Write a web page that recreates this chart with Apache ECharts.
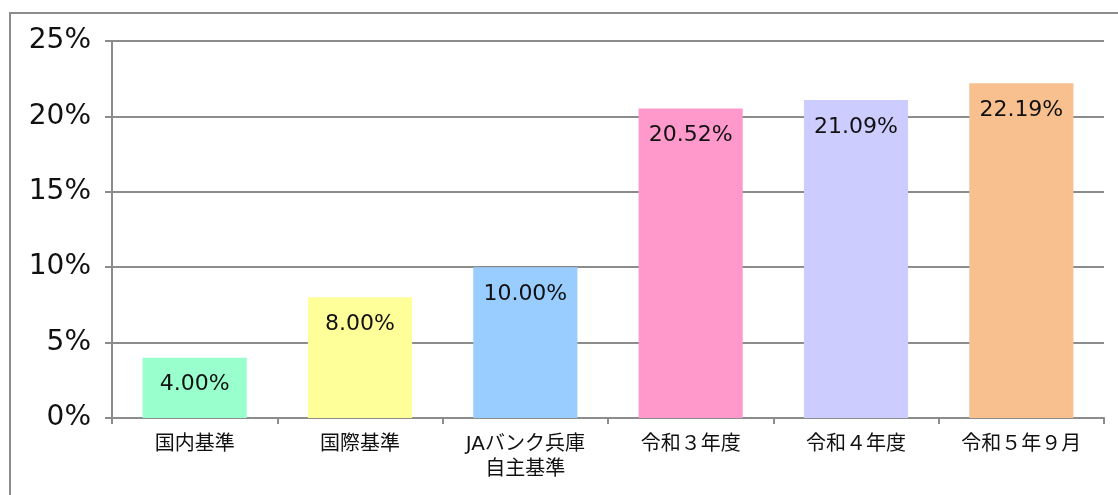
<!DOCTYPE html>
<html>
<head>
<meta charset="utf-8">
<script src="https://cdn.jsdelivr.net/npm/echarts@6/dist/echarts.min.js"></script>
<style>
  * { margin: 0; padding: 0; }
  body { background: #fff; }
  #frame {
    position: absolute;
    left: 9px;
    top: 12px;
    width: 1109px;
    height: 483px;
    border-left: 2px solid #8c8c8c;
    border-top: 2px solid #8c8c8c;
  }
  #chart-container {
    position: absolute;
    left: 0;
    top: 0;
    width: 1118px;
    height: 495px;
  }
</style>
</head>
<body>
<div id="frame"></div>
<div id="chart-container"></div>
<script>
  var categories = ['国内基準', '国際基準', 'JAバンク兵庫\n自主基準', '令和３年度', '令和４年度', '令和５年９月']
  var ratios = [4.00, 8.00, 10.00, 20.52, 21.09, 22.19]
  var barColors = ['#99ffcc', '#ffff99', '#99ccff', '#ff99cc', '#ccccff', '#f9c08f']
  var yTicks = [0, 5, 10, 15, 20, 25]

  var font = '"DejaVu Sans", "Noto Sans CJK JP", sans-serif'
  var myChart = echarts.init(document.getElementById('chart-container'), null, { renderer: 'canvas' })

  var option = {
    animation: false,
    grid: { left: 112, right: 14, top: 41, bottom: 77, containLabel: false },
    xAxis: {
      type: 'category',
      data: categories,
      axisLine: { lineStyle: { color: '#8c8c8c', width: 2 } },
      axisTick: { show: true, length: 6, lineStyle: { color: '#8c8c8c', width: 2 } },
      axisLabel: { color: '#111', fontSize: 20, fontFamily: font, margin: 14, lineHeight: 25, interval: 0 }
    },
    yAxis: {
      type: 'value',
      min: yTicks[0],
      max: yTicks[yTicks.length - 1],
      interval: 5,
      axisLine: { show: true, lineStyle: { color: '#8c8c8c', width: 2 } },
      axisTick: { show: true, length: 7, lineStyle: { color: '#8c8c8c', width: 2 } },
      splitLine: { lineStyle: { color: '#8c8c8c', width: 2 } },
      axisLabel: { color: '#111', fontSize: 28, fontFamily: font, margin: 21, formatter: '{value}%' }
    },
    series: [{
      type: 'bar',
      barCategoryGap: '37%',
      data: ratios.map(function (v, i) {
        return { value: v, itemStyle: { color: barColors[i] } }
      }),
      label: {
        show: true,
        position: 'insideTop',
        distance: 16,
        color: '#111',
        fontSize: 22,
        fontFamily: font,
        formatter: function (p) { return p.value.toFixed(2) + '%' }
      }
    }]
  }
  myChart.setOption(option)
  window.addEventListener('resize', myChart.resize)
</script>
</body>
</html>
